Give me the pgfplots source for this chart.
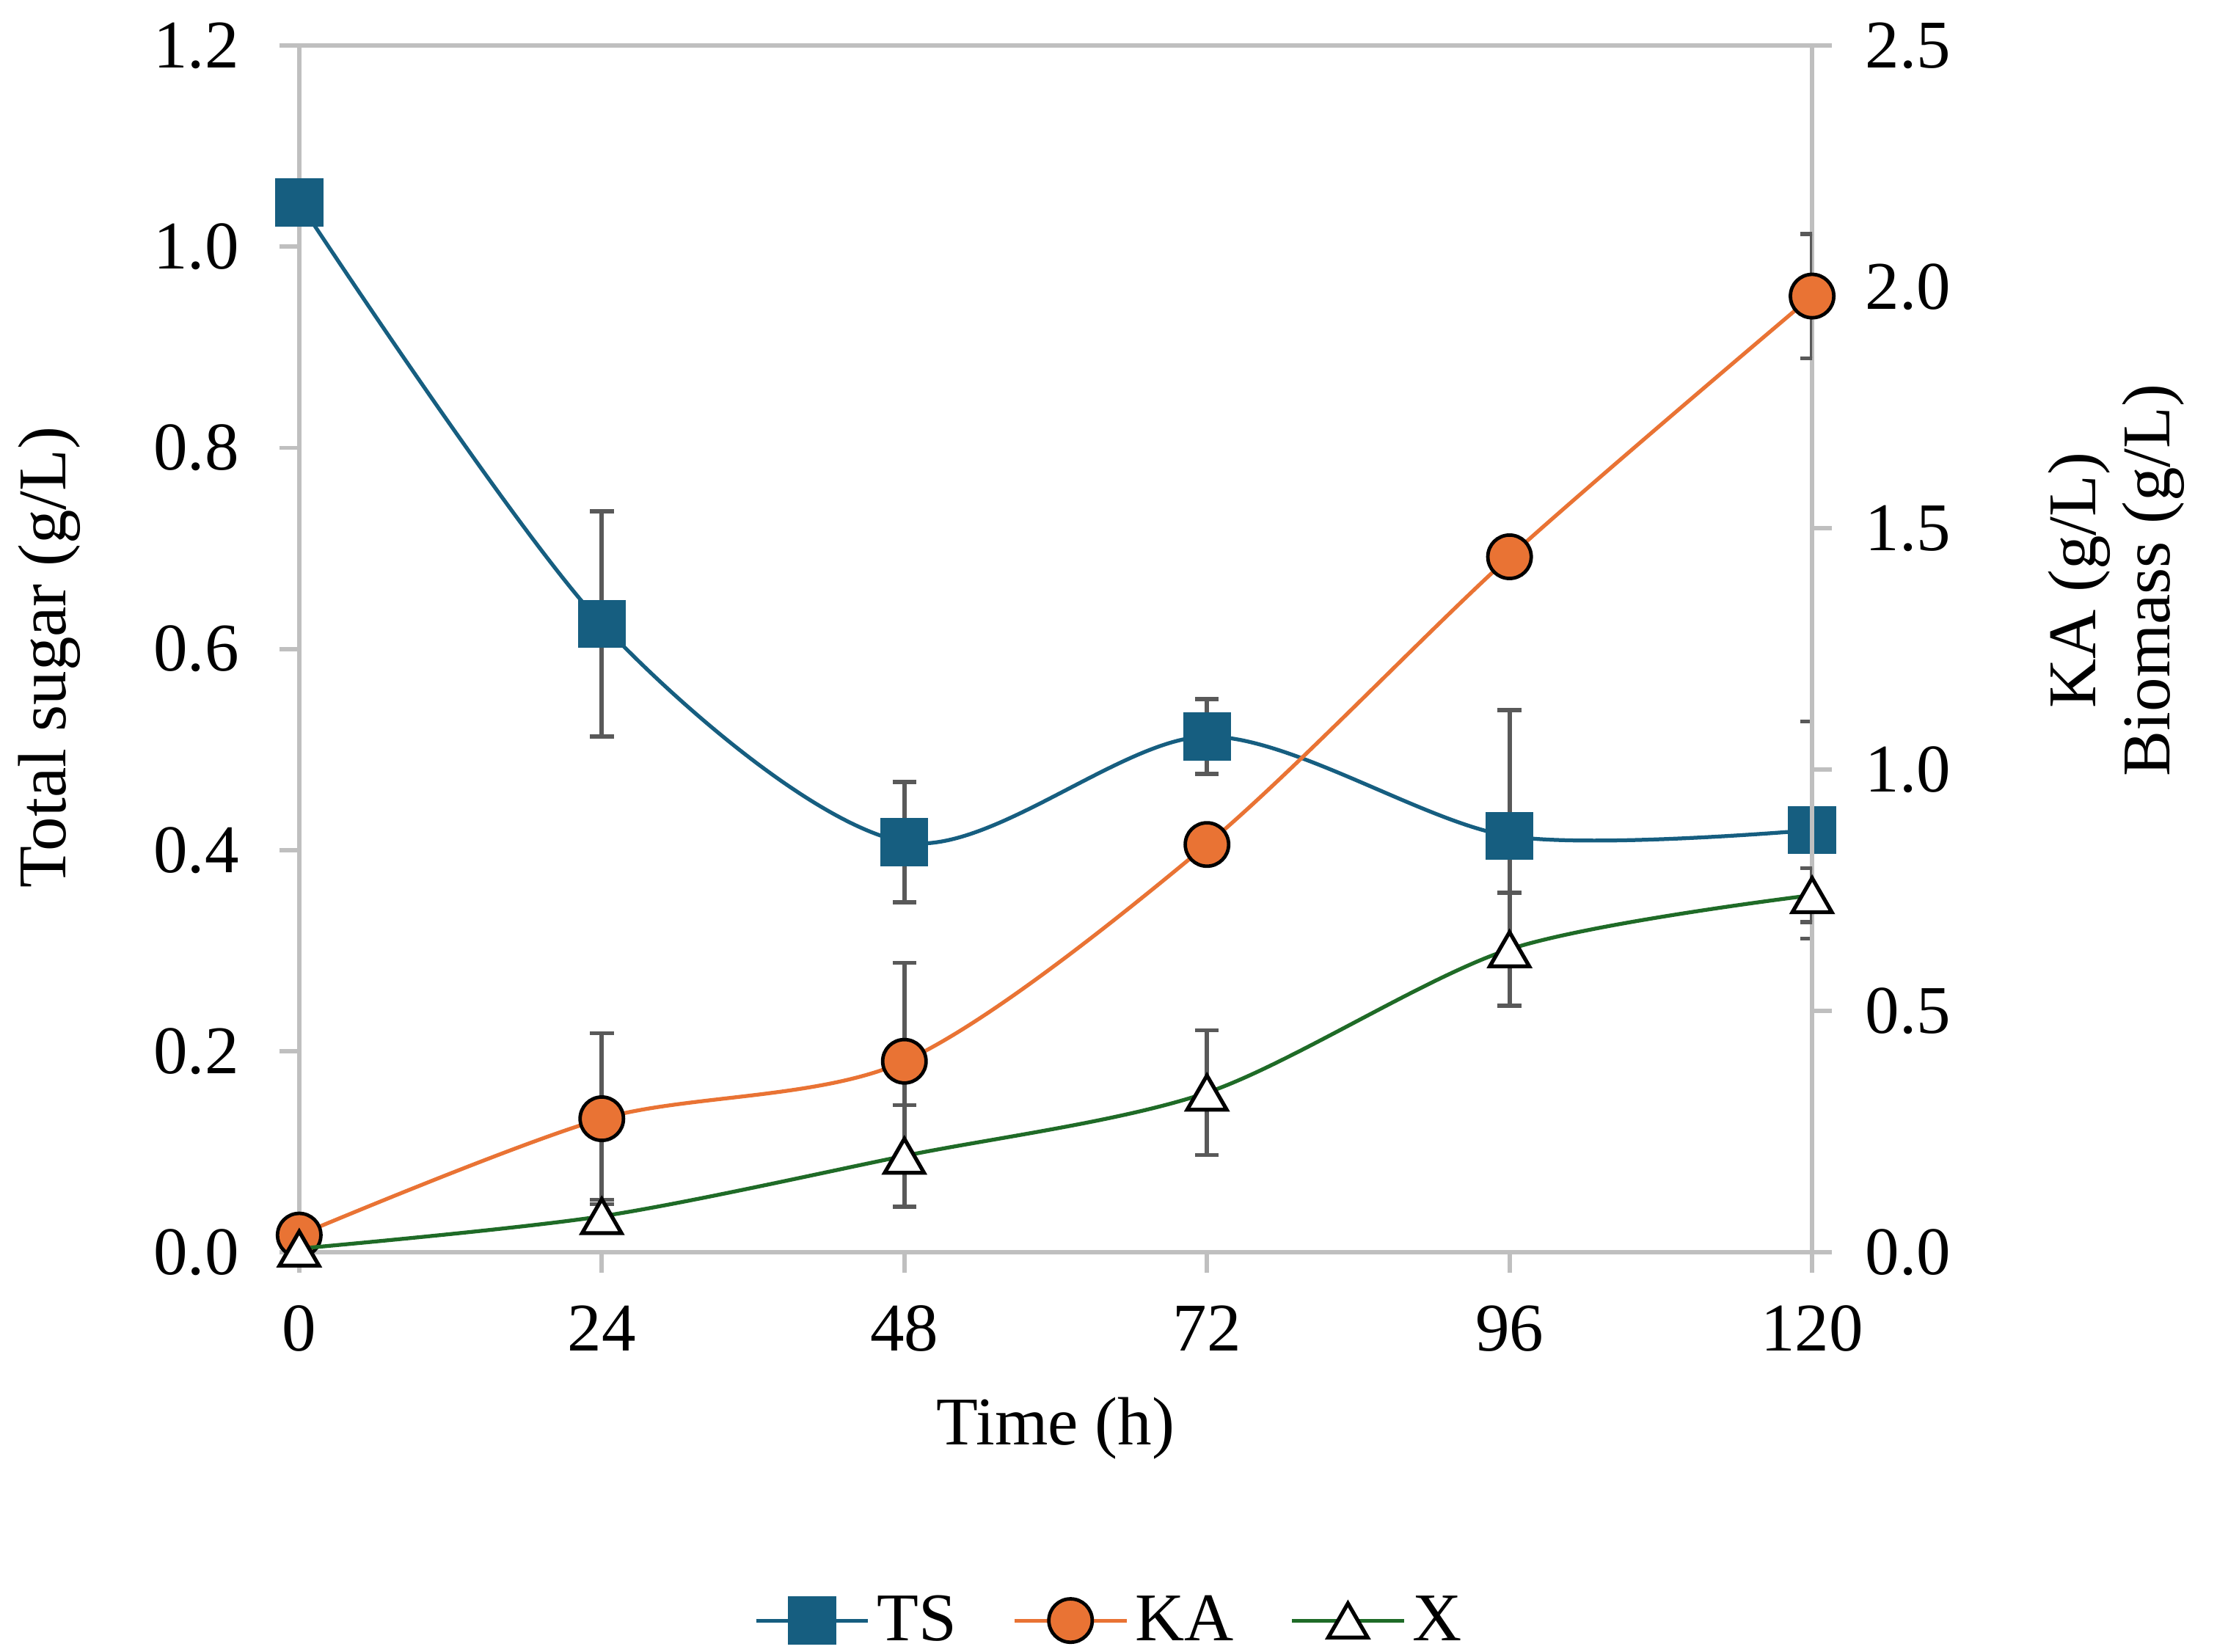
\documentclass[border=0pt]{standalone}
\usepackage{fontspec}
\setmainfont{Liberation Serif}
\usepackage{pgfplots}
\pgfplotsset{compat=1.18}

\definecolor{tsblue}{RGB}{22,94,128}
\definecolor{kaorange}{RGB}{233,115,52}
\definecolor{xgreen}{RGB}{31,107,39}
\definecolor{axgray}{RGB}{191,191,191}
\definecolor{errgray}{RGB}{89,89,89}

\newcommand{\chartfont}{\fontsize{19.5}{21.2}\selectfont}

\pgfplotsset{
  base/.style={
    width=432.3pt, height=344.9pt, scale only axis,
    xmin=0, xmax=120, clip mode=individual,
    axis line style={axgray, line width=1.2pt},
    major tick style={axgray, line width=1.2pt},
    major tick length=5.7pt, tick align=outside,
    /pgf/number format/assume math mode=true,
    tick label style={font=\chartfont},
  },
  errs/.style={
    error bars/y dir=both, error bars/y explicit,
    error bars/error bar style={errgray, line width=1.2pt},
    error bars/error mark options={errgray, rotate=90, mark size=3.4pt, line width=1.2pt},
  },
  legend image code/.code={\draw[mark repeat=2, mark phase=2] plot coordinates {(0pt,0pt) (16pt,0pt) (32pt,0pt)};},
}

\begin{document}
\begin{tikzpicture}
% left axis: total sugar
\begin{axis}[base, name=ax,
    ymin=0, ymax=1.2, ytick={0,0.2,...,1.2}, xtick={0,24,...,120},
    tick pos=left,
    yticklabel style={xshift=-8pt, /pgf/number format/.cd, fixed, fixed zerofill, precision=1},
    xticklabel style={yshift=-6pt},
    xlabel={Time (h)}, ylabel={Total sugar (g/L)},
    every axis x label/.style={at={(axis description cs:0.5,-0.146)}, anchor=center, font=\chartfont},
    every axis y label/.style={at={(axis description cs:-0.165,0.493)}, rotate=90, anchor=center, font=\chartfont},
]
\addplot[tsblue, line width=1.1pt, smooth, tension=0.5, mark=square*, mark size=6.3pt,
    mark options={tsblue, solid}, errs] coordinates {
    (0,1.044) +- (0,0)
    (24,0.625) +- (0,0.112)
    (48,0.408) +- (0,0.060)
    (72,0.513) +- (0,0.037)
    (96,0.414) +- (0,0.125)
    (120,0.420) +- (0,0.108)
};
\end{axis}
% right axis: KA and biomass
\begin{axis}[base,
    ymin=0, ymax=2.5, ytick={0,0.5,...,2.5},
    axis x line=none, axis y line*=right, ytick pos=right,
    yticklabel style={xshift=6pt, /pgf/number format/.cd, fixed, fixed zerofill, precision=1},
    ylabel={KA (g/L)\\Biomass (g/L)},
    every axis y label/.style={at={(axis description cs:1.201,0.557)}, rotate=90, anchor=center, align=center, font=\chartfont},
    legend style={at={(axis description cs:0.537,-0.305)}, anchor=center, draw=none,
        legend columns=-1, font=\chartfont,
        /tikz/every even column/.append style={column sep=14pt}},
]
\addlegendimage{tsblue, line width=1.1pt, mark=square*, mark size=6.3pt, mark options={tsblue}}
\addlegendentry{TS}
\addplot[kaorange, line width=1.1pt, smooth, tension=0.5, mark=*, mark size=6.2pt,
    mark options={fill=kaorange, draw=black, line width=1pt, solid}, errs] coordinates {
    (0,0.036) +- (0,0)
    (24,0.277) +- (0,0.177)
    (48,0.396) +- (0,0.204)
    (72,0.845) +- (0,0)
    (96,1.441) +- (0,0)
    (120,1.981) +- (0,0.129)
};
\addlegendentry{KA}
\addplot[xgreen, line width=1.1pt, smooth, tension=0.5, mark=triangle*, mark size=6.5pt,
    mark options={fill=white, draw=black, line width=1.1pt, solid, yshift=-1.6pt}, errs] coordinates {
    (0,0.008) +- (0,0)
    (24,0.075) +- (0,0.034)
    (48,0.200) +- (0,0.105)
    (72,0.331) +- (0,0.129)
    (96,0.628) +- (0,0.117)
    (120,0.740) +- (0,0.056)
};
\addlegendentry{X}
\end{axis}
\pgfresetboundingbox
\path[use as bounding box] ([xshift=-85.5pt, yshift=-114pt]ax.south west) rectangle ([xshift=115.7pt, yshift=13pt]ax.north east);
\end{tikzpicture}
\end{document}
